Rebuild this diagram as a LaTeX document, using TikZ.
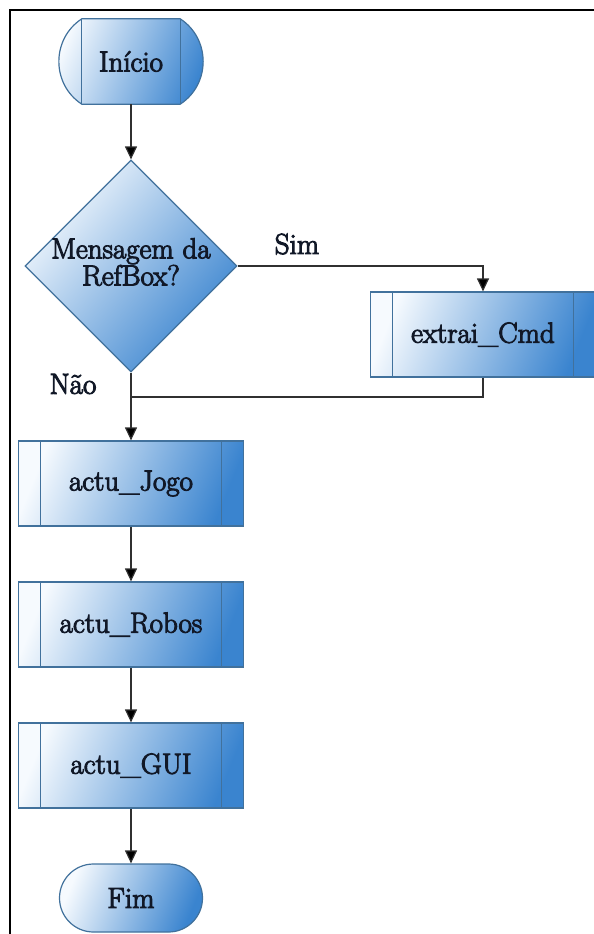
\documentclass[tikz,border=0pt]{standalone}
\usepackage{fontspec}
\usetikzlibrary{arrows.meta,shapes.geometric,calc,backgrounds}
\newfontfamily\chartfont{Latin Modern Roman}[FakeBold=3.5]

\definecolor{fillA}{HTML}{F6FAFE}
\definecolor{fillB}{HTML}{3A84CF}
\definecolor{edge}{HTML}{41719C}
\definecolor{ink}{HTML}{111827}
\definecolor{wire}{HTML}{303030}

\tikzset{
  x=1pt, y=-1pt,
  chartlabel/.style={font={\chartfont\fontsize{29}{27}\selectfont}, text=ink, inner sep=0pt},
  flowshade/.style={left color=fillA, right color=fillB, shading angle=68},
  outline/.style={draw=edge, line width=1.2pt},
  subbox/.style={outline, flowshade, chartlabel, minimum width=225pt, minimum height=85pt,
    path picture={
      \draw[outline] ([xshift=22pt]path picture bounding box.north west) -- ([xshift=22pt]path picture bounding box.south west);
      \draw[outline] ([xshift=-22pt]path picture bounding box.north east) -- ([xshift=-22pt]path picture bounding box.south east);
    }},
  decision/.style={diamond, outline, left color=fillA, right color=fillB, shading angle=50,
    minimum width=212pt, minimum height=212pt, inner sep=0pt},
  terminal/.style={outline, flowshade, chartlabel, rounded corners=34pt, minimum width=143pt, minimum height=68pt},
  flow/.style={draw=wire, line width=1.2pt},
  arrow/.style={flow, -{Triangle[length=13pt,width=12pt,fill=black]}}
}

\begin{document}
\begin{tikzpicture}
  \useasboundingbox (0,0) rectangle (594,934);

  % frame
  \draw[line width=2pt, black] (10,934) -- (10,10) -- (594,10);

  % start terminal
  \node[chartlabel, minimum width=98pt, minimum height=85pt] (inicio) at (131,61.5) {Início};
  \begin{scope}[on background layer]
    \path[outline, flowshade]
      (inicio.north west) -- (inicio.north east)
      .. controls ($(inicio.north east)+(30.6,20)$) and ($(inicio.south east)+(30.6,-20)$) .. (inicio.south east)
      -- (inicio.south west)
      .. controls ($(inicio.south west)+(-30.6,-20)$) and ($(inicio.north west)+(-30.6,20)$) .. (inicio.north west)
      -- cycle;
  \end{scope}
  \draw[outline] (inicio.north west) -- (inicio.south west);
  \draw[outline] (inicio.north east) -- (inicio.south east);

  % decision
  \node[decision] (dec) at (131,266) {};
  \node[chartlabel, align=center] (dectext) at (131,262) {Mensagem da\\RefBox?};

  % processes
  \node[subbox] (extrai) at (483,334.5) {extrai\_Cmd};
  \node[subbox] (jogo) at (131,483.5) {actu\_Jogo};
  \node[subbox] (robos) at (131,624.5) {actu\_Robos};
  \node[subbox] (gui) at (131,765.5) {actu\_GUI};

  % end terminal
  \node[terminal] (fim) at (131,898) {Fim};

  % connectors
  \coordinate (join) at (131,397);
  \draw[arrow] (inicio.south) -- (dec.north);
  \draw[arrow] (dec.east) -| (extrai.north);
  \node[chartlabel] (sim) at (297,244) {Sim};
  \draw[arrow] (dec.south) -- (jogo.north);
  \node[chartlabel] (nao) at (73,384) {Não};
  \draw[flow] (extrai.south) |- (join);
  \draw[arrow] (jogo.south) -- (robos.north);
  \draw[arrow] (robos.south) -- (gui.north);
  \draw[arrow] (gui.south) -- (fim.north);
\end{tikzpicture}
\end{document}
